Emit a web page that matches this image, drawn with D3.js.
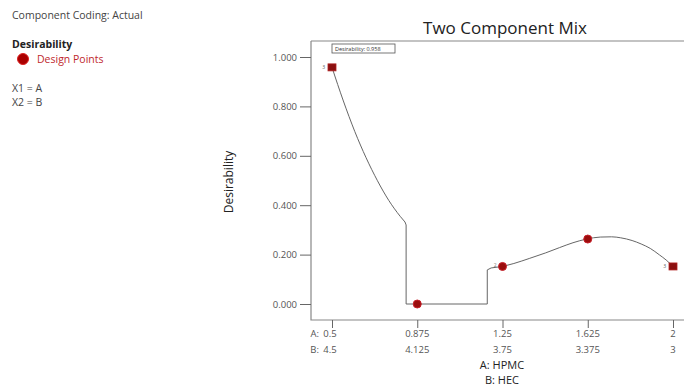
<!DOCTYPE html>
<html><head><meta charset="utf-8">
<script src="https://cdn.jsdelivr.net/npm/d3@7"></script>
<style>body{margin:0;background:#fff;} text{font-family:"Open Sans","Noto Sans",sans-serif;}</style>
</head><body>
<svg id="c" width="684" height="388"></svg>
<script>
// Data
const upperA = [0.5, 0.55, 0.6, 0.65, 0.7, 0.75, 0.8, 0.821];
const upperD = [0.958, 0.822, 0.699, 0.592, 0.499, 0.419, 0.355, 0.332];
const stepA = [0.821, 0.826, 0.826, 1.183, 1.183, 1.2, 1.25];
const stepD = [0.332, 0.32, 0.0, 0.0, 0.138, 0.146, 0.152];
const rightA = [1.25, 1.30, 1.37, 1.44, 1.50, 1.56, 1.62, 1.68, 1.73, 1.77, 1.82, 1.86, 1.90, 1.94, 1.97, 2.0];
const rightD = [0.152, 0.164, 0.185, 0.207, 0.228, 0.248, 0.263, 0.271, 0.272, 0.268, 0.257, 0.243, 0.225, 0.199, 0.178, 0.152];
const pointsA = [0.875, 1.25, 1.625];
const pointsD = [0.0, 0.152, 0.263];
const endA = [0.5, 2.0];
const endD = [0.958, 0.152];
const endLabels = ["3", "3"];
const xTicksA = [0.5, 0.875, 1.25, 1.625, 2];
const xTicksB = [4.5, 4.125, 3.75, 3.375, 3];
const yTicks = [0, 0.2, 0.4, 0.6, 0.8, 1.0];

const svg = d3.select("#c");
const x = d3.scaleLinear().domain([0.5, 2]).range([332, 673]);
const y = d3.scaleLinear().domain([0, 1]).range([304, 57]);

// legend
const lg = svg.append("g").attr("fill", "#444").style("font-size", "10.5px");
lg.append("text").attr("x", 12).attr("y", 19).text("Component Coding: Actual");
lg.append("text").attr("x", 12).attr("y", 48).attr("fill", "#222").style("font-weight", "bold").text("Desirability");
lg.append("circle").attr("cx", 23).attr("cy", 59).attr("r", 5.5).attr("fill", "#a00").attr("stroke", "#d22").attr("stroke-width", 1);
lg.append("text").attr("x", 37).attr("y", 63).attr("fill", "#c0282d").text("Design Points");
lg.append("text").attr("x", 12).attr("y", 92).text("X1 = A");
lg.append("text").attr("x", 12).attr("y", 106).text("X2 = B");

// title
svg.append("text").attr("x", 505).attr("y", 34).attr("text-anchor", "middle")
  .style("font-size", "17px").attr("fill", "#222").text("Two Component Mix");

// frame
svg.append("path").attr("d", "M311,41H700M311,41V320H700").attr("fill", "none").attr("stroke", "#888").attr("stroke-width", 1.2);

// y axis
const ya = svg.append("g").attr("transform", "translate(311,0)")
  .call(d3.axisLeft(y).tickValues(yTicks).tickFormat(d3.format(".3f")).tickSize(11).tickPadding(3));
ya.select(".domain").remove();
ya.selectAll("line").attr("stroke", "#666");
ya.selectAll("text").attr("fill", "#555").style("font-size", "9.5px").style("font-family", "'Open Sans',sans-serif");

svg.append("text").attr("transform", "translate(233,182) rotate(-90)").attr("text-anchor", "middle")
  .style("font-size", "12px").attr("fill", "#222").text("Desirability");

// x axis
const xa = svg.append("g").attr("transform", "translate(0,320)")
  .call(d3.axisBottom(x).tickValues(xTicksA).tickFormat("").tickSize(8));
xa.select(".domain").remove();
xa.selectAll("line").attr("stroke", "#666");
const xl = svg.append("g").attr("fill", "#555").style("font-size", "9.5px");
xl.selectAll(".la").data(xTicksA).join("text").attr("class", "la")
  .attr("x", d => x(d) - (d === 0.5 ? 2 : 0)).attr("y", 337).attr("text-anchor", "middle").text(d => d);
xl.selectAll(".lb").data(xTicksB).join("text").attr("class", "lb")
  .attr("x", (d, i) => x(xTicksA[i]) - (i === 0 ? 2 : 0)).attr("y", 353).attr("text-anchor", "middle").text(d => d);
xl.append("text").attr("x", 319).attr("y", 337).attr("text-anchor", "end").text("A:");
xl.append("text").attr("x", 319).attr("y", 353).attr("text-anchor", "end").text("B:");

svg.append("text").attr("x", 502).attr("y", 369).attr("text-anchor", "middle").style("font-size", "11px").attr("fill", "#222").text("A: HPMC");
svg.append("text").attr("x", 502).attr("y", 384).attr("text-anchor", "middle").style("font-size", "11px").attr("fill", "#222").text("B: HEC");

// curve
const smooth = (A) => d3.line().x((d, i) => x(A[i])).y(d => y(d)).curve(d3.curveMonotoneX);
const lin = (A) => d3.line().x((d, i) => x(A[i])).y(d => y(d));
function drawPath(D, gen) {
  svg.append("path").datum(D).attr("d", gen).attr("fill", "none").attr("stroke", "#666").attr("stroke-width", 1);
}
drawPath(upperD, smooth(upperA));
drawPath(stepD, lin(stepA));
drawPath(rightD, smooth(rightA));

// design points
svg.selectAll(".pt").data(pointsD).join("circle").attr("class", "pt")
  .attr("cx", (d, i) => x(pointsA[i])).attr("cy", d => y(d)).attr("r", 4)
  .attr("fill", "#9a0d0d").attr("stroke", "#c8202a").attr("stroke-width", 1);

// end squares
svg.selectAll(".sq").data(endD).join("rect").attr("class", "sq")
  .attr("x", (d, i) => x(endA[i]) - 4).attr("y", d => y(d) - 3.5).attr("width", 8).attr("height", 7)
  .attr("fill", "#8a1010").attr("stroke", "#b02020").attr("stroke-width", 0.8);
svg.selectAll(".sql").data(endD).join("text").attr("class", "sql")
  .attr("x", (d, i) => x(endA[i]) - 7).attr("y", d => y(d) + 2).attr("text-anchor", "end")
  .style("font-size", "5px").attr("fill", "#555").text((d, i) => endLabels[i]);
svg.append("text").attr("x", x(1.25) - 6).attr("y", y(0.152) + 1).attr("text-anchor", "end")
  .style("font-size", "5px").attr("fill", "#777").text("2");

// annotation
const ax = x(endA[0]);
svg.append("rect").attr("x", ax).attr("y", 44).attr("width", 63).attr("height", 9).attr("fill", "#fff").attr("stroke", "#555").attr("stroke-width", 0.8);
svg.append("text").attr("x", ax + 3).attr("y", 51).style("font-size", "5.5px").attr("fill", "#333").text("Desirability: " + d3.format(".3f")(endD[0]));
</script>
</body></html>
